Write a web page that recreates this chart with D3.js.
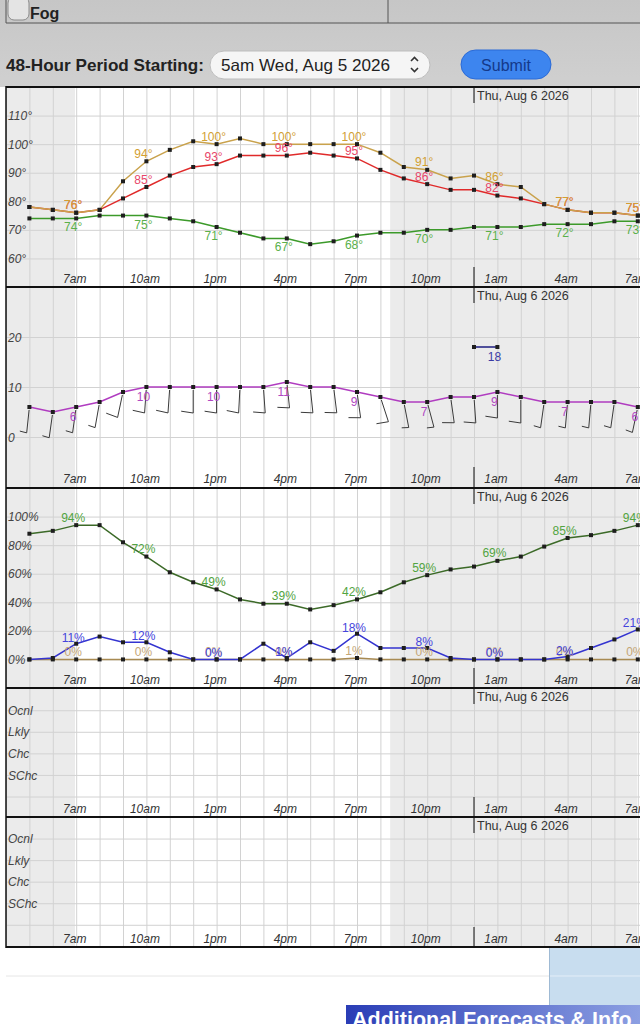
<!DOCTYPE html>
<html>
<head>
<meta charset="utf-8">
<script src="https://cdn.jsdelivr.net/npm/d3@7"></script>
<style>
  body { margin: 0; background: #fff; }
  svg { display: block; font-family: "Liberation Sans", Arial, sans-serif; }
  .grid line { stroke: #d2d2d2; stroke-width: 1; }
  .grid path { display: none; }
  .xlab path, .ylab path { display: none; }
  .xlab text { font-style: italic; font-size: 12px; fill: #333; }
  .ylab text { font-style: italic; font-size: 12px; fill: #444; }
  .val { font-size: 12px; }
</style>
</head>
<body>
<div id="chart"></div>
<script>
// hourly values, starting 5am Wed Aug 5 2026
var startTime = new Date(2026, 7, 5, 5);
var temperature = [78, 77, 76, 77, 81, 85, 89, 92, 93, 96, 96, 96, 97, 96, 95, 91, 88, 86, 84, 84, 82, 81, 79, 77, 76, 76, 75];
var heatIndex   = [78, 77, 76, 77, 87, 94, 98, 101, 100, 102, 100, 100, 100, 100, 100, 97, 92, 91, 88, 89, 86, 85, 79, 77, 76, 76, 75];
var dewPoint    = [74, 74, 74, 75, 75, 75, 74, 73, 71, 69, 67, 67, 65, 66, 68, 69, 69, 70, 70, 71, 71, 71, 72, 72, 72, 73, 73];
var windSpeed   = [6, 5, 6, 7, 9, 10, 10, 10, 10, 10, 10, 11, 10, 10, 9, 8, 7, 7, 8, 8, 9, 8, 7, 7, 7, 7, 6];
var windDir     = [186, 188, 188, 190, 192, 184, 184, 180, 180, 183, 176, 174, 174, 173, 172, 162, 169, 165, 172, 176, 180, 180, 188, 185, 185, 188, 192];
var windGust    = [null, null, null, null, null, null, null, null, null, null, null, null, null, null, null, null, null, null, null, 18, 18, null, null, null, null, null, null];
var humidity    = [88, 90, 94, 94, 82, 72, 61, 54, 49, 42, 39, 39, 35, 38, 42, 47, 54, 59, 63, 65, 69, 72, 79, 85, 87, 90, 94];
var precipChance = [0, 1, 11, 16, 12, 12, 5, 0, 0, 0, 11, 1, 12, 6, 18, 8, 8, 8, 1, 0, 0, 0, 0, 2, 8, 14, 21];
var thunderChance = [0, 0, 0, 0, 0, 0, 0, 0, 0, 0, 0, 0, 0, 0, 1, 0, 0, 0, 0, 0, 0, 0, 0, 0, 0, 0, 0];
var chanceLevels = ["", "SChc", "Chc", "Lkly", "Ocnl"];
var sunTimes = [new Date(2026, 7, 5, 6, 57), new Date(2026, 7, 5, 20, 25), new Date(2026, 7, 6, 6, 58)];

var hours = temperature.map((d, i) => d3.timeHour.offset(startTime, i));
var midnight = new Date(2026, 7, 6, 0);

var svg = d3.select("#chart").append("svg")
  .attr("width", 640)
  .attr("height", 1024);

// ---- page header ----
var grad = svg.append("defs").append("linearGradient")
  .attr("id", "topbg").attr("x1", 0).attr("y1", 0).attr("x2", 0).attr("y2", 1);
grad.append("stop").attr("offset", "0%").attr("stop-color", "#c6c6c6");
grad.append("stop").attr("offset", "100%").attr("stop-color", "#d0d0d0");
svg.append("rect").attr("width", 640).attr("height", 87).attr("fill", "url(#topbg)");

svg.append("path").attr("d", "M6,0V23H640M388,0V23").attr("fill", "none").attr("stroke", "#555");
svg.append("rect").attr("x", 8).attr("y", -3).attr("width", 21).attr("height", 23).attr("rx", 6)
  .attr("fill", "#e4e4e4").attr("stroke", "#8a8a8a");
svg.append("text").attr("x", 30).attr("y", 19).attr("font-size", 16).attr("font-weight", "bold")
  .attr("fill", "#222").text("Fog");

svg.append("text").attr("x", 6).attr("y", 71).attr("font-size", 16.5).attr("font-weight", "bold")
  .attr("textLength", 198).attr("lengthAdjust", "spacingAndGlyphs")
  .attr("fill", "#222").text("48-Hour Period Starting:");
svg.append("rect").attr("x", 210).attr("y", 51).attr("width", 220).attr("height", 28).attr("rx", 14)
  .attr("fill", "#f5f5f5").attr("stroke", "#bdbdbd");
svg.append("text").attr("x", 221).attr("y", 71).attr("font-size", 16.5)
  .attr("textLength", 169).attr("lengthAdjust", "spacingAndGlyphs")
  .attr("fill", "#222").text("5am Wed, Aug 5 2026");
svg.append("path").attr("d", "M411,61l3.5,-3.5l3.5,3.5M411,68l3.5,3.5l3.5,-3.5")
  .attr("fill", "none").attr("stroke", "#333").attr("stroke-width", 1.6);
svg.append("rect").attr("x", 461).attr("y", 50).attr("width", 90).attr("height", 29).attr("rx", 14.5)
  .attr("fill", "#3d85ef").attr("stroke", "#2b6ad6");
svg.append("text").attr("x", 506).attr("y", 71).attr("font-size", 16).attr("text-anchor", "middle")
  .attr("fill", "#14398a").text("Submit");

// ---- chart panels ----
var x = d3.scaleTime()
  .domain([new Date(2026, 7, 5, 4), new Date(2026, 7, 7, 4)])
  .range([6, 6 + 48 * 23.4]);

var panels = [
  { top: 87, bottom: 287, domain: [50, 120], ticks: [60, 70, 80, 90, 100, 110], fmt: d => d + "°" },
  { top: 287, bottom: 487, domain: [-10, 30], ticks: [0, 10, 20], fmt: d => d },
  { top: 488, bottom: 688, domain: [-20, 120], ticks: [0, 20, 40, 60, 80, 100], fmt: d => d + "%" },
  { top: 688, bottom: 817, domain: [-0.95, 5.03], ticks: [0, 1, 2, 3, 4], fmt: d => chanceLevels[d] },
  { top: 817, bottom: 947, domain: [-1.03, 5], ticks: [0, 1, 2, 3, 4], fmt: d => chanceLevels[d] }
];

var labelTicks = d3.timeHour.range(startTime, x.domain()[1]).filter(d => d.getHours() % 3 === 1);
var fmtHour = d3.timeFormat("%-I%p");

panels.forEach(function(p) {
  p.y = d3.scaleLinear().domain(p.domain).range([p.bottom, p.top]);
  var g = svg.append("g");
  p.g = g;

  g.append("rect").attr("x", 6).attr("y", p.top).attr("width", 634).attr("height", p.bottom - p.top)
    .attr("fill", "#fff");

  // night shading
  [[x.domain()[0], sunTimes[0]], [sunTimes[1], sunTimes[2]]].forEach(function(n) {
    g.append("rect")
      .attr("x", x(n[0])).attr("y", p.top)
      .attr("width", x(n[1]) - x(n[0])).attr("height", p.bottom - p.top)
      .attr("fill", "#ebebeb");
  });

  g.append("g").attr("class", "grid")
    .attr("transform", `translate(0, ${p.bottom})`)
    .call(d3.axisBottom(x).ticks(d3.timeHour.every(1)).tickSize(-(p.bottom - p.top)).tickFormat(""));

  g.append("g").attr("class", "grid")
    .attr("transform", "translate(6, 0)")
    .call(d3.axisRight(p.y).tickValues(p.ticks).tickSize(634).tickFormat(""));

  // midnight marker + date
  g.append("path")
    .attr("d", `M${x(midnight)},${p.top}v16M${x(midnight)},${p.bottom - 20}V${p.bottom}`)
    .attr("stroke", "#333").attr("stroke-width", 1.2);
  g.append("text").attr("x", x(midnight) + 3).attr("y", p.top + 13)
    .attr("font-size", 12.5).attr("fill", "#333").text("Thu, Aug 6 2026");

  g.append("g").attr("class", "ylab")
    .attr("transform", "translate(6, 0)")
    .call(d3.axisRight(p.y).tickValues(p.ticks).tickSize(0).tickPadding(2).tickFormat(p.fmt))
    .selectAll("text").attr("dy", "0.34em");

  g.append("g").attr("class", "xlab")
    .attr("transform", `translate(-2, ${p.bottom - 4.5})`)
    .call(d3.axisBottom(x).tickValues(labelTicks).tickSize(0).tickPadding(0)
      .tickFormat(d => fmtHour(d).toLowerCase()))
    .selectAll("text").attr("dy", 0);
});

function drawSeries(p, values, lineColor) {
  var line = d3.line()
    .defined(d => d != null)
    .x((d, i) => x(hours[i]))
    .y(d => p.y(d));

  p.g.append("path")
    .datum(values)
    .attr("d", line)
    .attr("fill", "none")
    .attr("stroke", lineColor)
    .attr("stroke-width", 1.5);

  var pts = values.map((v, i) => ({ v: v, t: hours[i], i: i })).filter(d => d.v != null);

  p.g.selectAll(null)
    .data(pts)
    .enter()
    .append("rect")
    .attr("x", d => x(d.t) - 2)
    .attr("y", d => p.y(d.v) - 2)
    .attr("width", 4)
    .attr("height", 4)
    .attr("fill", "#1e1e1e");

  return pts;
}

function drawLabels(p, pts, color, dy, suffix, filter) {
  p.g.selectAll(null)
    .data(pts.filter(filter || (d => d.i % 3 === 2)))
    .enter()
    .append("text")
    .attr("class", "val")
    .attr("text-anchor", "middle")
    .attr("x", d => x(d.t) - 3)
    .attr("y", d => p.y(d.v) + dy)
    .attr("fill", color)
    .text(d => d.v + suffix);
}

// panel 1: temperature, heat index, dew point
var p1 = panels[0];
var dp = drawSeries(p1, dewPoint, "#3c9a2a");
var tp = drawSeries(p1, temperature, "#e02a2a");
var hp = drawSeries(p1, heatIndex, "#c9a24c");
drawLabels(p1, dp, "#5ab04a", 13, "°");
drawLabels(p1, tp, "#e8466a", -3.5, "°");
drawLabels(p1, hp, "#d2a032", -3.5, "°");

// panel 2: wind barbs, speed, gust
var p2 = panels[1];
var barbs = p2.g.append("g").attr("fill", "none").attr("stroke", "#3a3a3a").attr("stroke-width", 1);
windSpeed.forEach(function(s, i) {
  var r = windDir[i] * Math.PI / 180;
  var ux = Math.sin(r), uy = -Math.cos(r);
  var cx = x(hours[i]), cy = p2.y(s);
  var x1 = cx + ux * 3, y1 = cy + uy * 3;
  var x2 = cx + ux * 26, y2 = cy + uy * 26;
  var len = s >= 8 ? 12 : 7;
  var tx = x2 - uy * len - ux * len * 0.15;
  var ty = y2 + ux * len - uy * len * 0.15;
  barbs.append("path").attr("d", `M${x1},${y1}L${x2},${y2}L${tx},${ty}`);
});
var wp = drawSeries(p2, windSpeed, "#b03cc0");
var gp = drawSeries(p2, windGust, "#1c1c80");
drawLabels(p2, wp, "#b048c2", 13.5, "");
drawLabels(p2, gp, "#3a3aa4", 14, "", d => d.i === 20);

// panel 3: humidity, precip chance, thunder
var p3 = panels[2];
var hup = drawSeries(p3, humidity, "#3c6a28");
var thp = drawSeries(p3, thunderChance, "#a88a52");
var pp = drawSeries(p3, precipChance, "#3434d0");
drawLabels(p3, hup, "#52a442", -3.5, "%");
drawLabels(p3, thp, "#c4a676", -3.5, "%");
drawLabels(p3, pp, "#4444dc", -2, "%");

// panel borders
svg.append("path")
  .attr("d", "M6,87H640M6,287H640M6,488H640M6,688H640M6,817H640M6,947H640")
  .attr("stroke", "#111").attr("stroke-width", 2);
svg.append("path").attr("d", "M6,86V948").attr("stroke", "#111").attr("stroke-width", 1.5);

// ---- below the chart ----
svg.append("path").attr("d", "M6,976H640").attr("stroke", "#e6e6e6");
svg.append("rect").attr("x", 549).attr("y", 948).attr("width", 91).attr("height", 57).attr("fill", "#c8ddef");
svg.append("path").attr("d", "M549.5,948V1005").attr("stroke", "#9fbad4");
svg.append("path").attr("d", "M550,976H640").attr("stroke", "#e4eef8");
var bgrad = svg.select("defs").append("linearGradient").attr("id", "bar");
bgrad.append("stop").attr("offset", "0%").attr("stop-color", "#2a3db6");
bgrad.append("stop").attr("offset", "100%").attr("stop-color", "#8c9fe2");
svg.append("rect").attr("x", 346).attr("y", 1005).attr("width", 294).attr("height", 19).attr("fill", "url(#bar)");
svg.append("text").attr("x", 352).attr("y", 1027).attr("font-size", 21.5).attr("font-weight", "bold")
  .attr("fill", "#fff").text("Additional Forecasts & Info");
</script>
</body>
</html>
